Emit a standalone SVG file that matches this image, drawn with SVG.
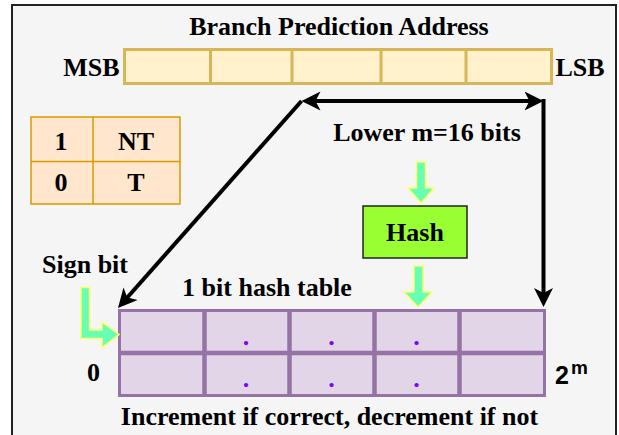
<svg xmlns="http://www.w3.org/2000/svg" width="619" height="435" viewBox="0 0 619 435">
<style>
.t{font-family:"Liberation Serif","Times New Roman",serif;font-weight:bold;font-size:26px;fill:#000;text-anchor:middle}
.dot{font-family:"Liberation Serif","Times New Roman",serif;font-weight:bold;font-size:26px;fill:#7F00FF;text-anchor:middle}
.s{font-family:"Liberation Sans",Arial,sans-serif;font-weight:bold;fill:#000}
.bar{fill:#FFF2CC;stroke:#D6B656;stroke-width:3}
.barl{stroke:#D6B656;stroke-width:3}
.tab{fill:#E1D5E7;stroke:#9673A6;stroke-width:3}
.tabl{stroke:#9673A6;stroke-width:4.5}
.leg{fill:#FFE6CC;stroke:#D79B00;stroke-width:1.5}
.ga{fill:#66FFB3;stroke:#FFFF66;stroke-width:1.5;stroke-linejoin:miter}
.conn{fill:none;stroke:#000;stroke-width:4}
</style>
<defs>
<marker id="ah" markerUnits="userSpaceOnUse" markerWidth="22" markerHeight="22" viewBox="0 -11 22 22" refX="11" refY="0" orient="auto-start-reverse">
<path d="M0,-9.5 L19,0 L0,9.5 L5,0 Z" fill="#000"/>
</marker>
</defs>
<rect x="0" y="0" width="619" height="435" fill="#FFFFFF"/>
<rect id="frame" x="12" y="5" width="604" height="445" fill="#F5F5F5" stroke="#222" stroke-width="2"/>

<g id="title"><text class="t" x="339" y="35">Branch Prediction Address</text></g>

<g id="address">
<rect class="bar" x="124.5" y="49.5" width="427" height="34"/>
<line class="barl" x1="210.5" y1="49.5" x2="210.5" y2="83.5"/>
<line class="barl" x1="292" y1="49.5" x2="292" y2="83.5"/>
<line class="barl" x1="381" y1="49.5" x2="381" y2="83.5"/>
<line class="barl" x1="466" y1="49.5" x2="466" y2="83.5"/>
</g>
<g id="msb"><text class="t" x="91.5" y="76">MSB</text></g>
<g id="lsb"><text class="t" x="580" y="76">LSB</text></g>
<g id="lower"><text class="t" x="427" y="141">Lower m=16 bits</text></g>

<g id="legend">
<rect class="leg" x="31" y="117" width="149" height="87"/>
<line class="leg" x1="93" y1="117" x2="93" y2="204"/>
<line class="leg" x1="31" y1="161.5" x2="180" y2="161.5"/>
<text class="t" x="61" y="150">1</text>
<text class="t" x="136" y="150">NT</text>
<text class="t" x="61" y="191">0</text>
<text class="t" x="136" y="191">T</text>
</g>

<g id="hash">
<rect x="363" y="206" width="104" height="52" fill="#99FF33" stroke="#222" stroke-width="1.5"/>
<text class="t" x="415" y="241">Hash</text>
</g>

<g id="sign-bit"><text class="t" x="85" y="273">Sign bit</text></g>
<g id="table-label"><text class="t" x="267" y="296">1 bit hash table</text></g>

<g id="hash-table">
<rect class="tab" x="119.5" y="310.5" width="425" height="85"/>
<line class="tabl" x1="204.5" y1="310" x2="204.5" y2="396"/>
<line class="tabl" x1="289.5" y1="310" x2="289.5" y2="396"/>
<line class="tabl" x1="374.5" y1="310" x2="374.5" y2="396"/>
<line class="tabl" x1="459.5" y1="310" x2="459.5" y2="396"/>
<line class="tabl" x1="119" y1="353" x2="545" y2="353"/>
<text class="dot" x="246" y="345">.</text>
<text class="dot" x="331.5" y="345">.</text>
<text class="dot" x="416.5" y="345">.</text>
<text class="dot" x="246" y="387">.</text>
<text class="dot" x="331.5" y="387">.</text>
<text class="dot" x="416.5" y="387">.</text>
</g>

<g id="zero"><text class="t" x="93.5" y="381">0</text></g>
<g id="two-m"><text class="s" x="555" y="384" font-size="25">2</text><text class="s" x="571" y="374" font-size="19">m</text></g>
<g id="caption"><text class="t" x="329.5" y="425">Increment if correct, decrement if not</text></g>

<g id="connectors">
<path class="conn" d="M309.5,101 L535.5,101" marker-start="url(#ah)" marker-end="url(#ah)"/>
<path class="conn" d="M543.5,99 L543.5,299" marker-end="url(#ah)"/>
<path class="conn" d="M301.5,101 L123.3,302" marker-end="url(#ah)"/>
<polygon class="ga" points="416.5,162 425.5,162 425.5,188 434,188 421,203 408,188 416.5,188"/>
<polygon class="ga" points="414,266 423,266 423,292 432,292 418,307 404,292 414,292"/>
<polygon class="ga" points="81,287.5 89.5,287.5 89.5,330 102,330 102,322 119,334.5 102,347.5 102,338.5 81,338.5"/>
</g>
</svg>
